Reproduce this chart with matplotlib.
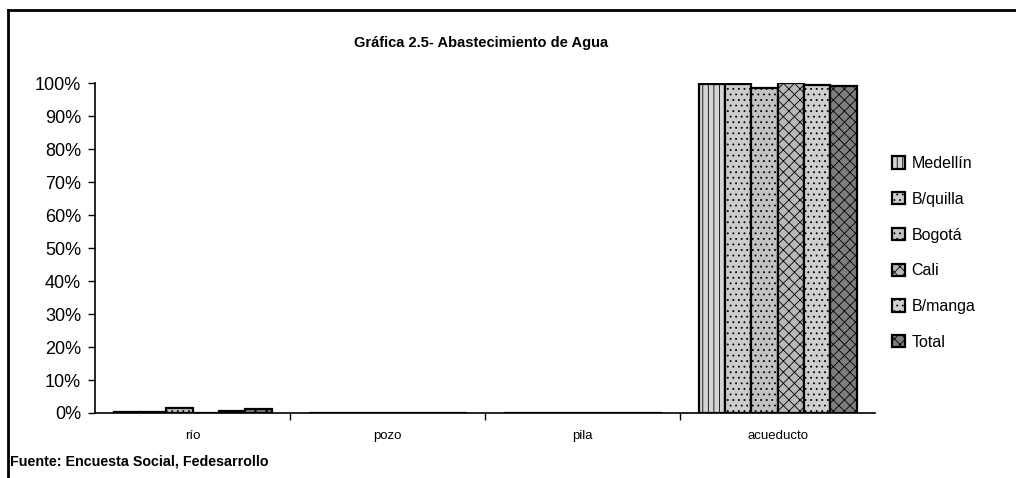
import matplotlib
matplotlib.use("Agg")
import matplotlib.pyplot as plt
import numpy as np
from matplotlib.lines import Line2D
from matplotlib.ticker import PercentFormatter

plt.rcParams['font.family'] = ['Liberation Sans', 'DejaVu Sans']
plt.rcParams['hatch.linewidth'] = 0.6

categories = ["río", "pozo", "pila", "acueducto"]
series = ["Medellín", "B/quilla", "Bogotá", "Cali", "B/manga", "Total"]
medellin = [0.3, 0.0, 0.0, 99.6]
bquilla = [0.4, 0.0, 0.0, 99.7]
bogota = [1.6, 0.0, 0.0, 98.6]
cali = [0.1, 0.0, 0.0, 100.0]
bmanga = [0.6, 0.0, 0.0, 99.5]
total = [1.3, 0.0, 0.0, 99.2]
values = [medellin, bquilla, bogota, cali, bmanga, total]

colors = ["#d4d4d4", "#cccccc", "#c2c2c2", "#b8b8b8", "#cfcfcf", "#7e7e7e"]
hatches = ["|||", "...", "...", "xxx", "...", "xxx"]

fig = plt.figure(figsize=(10.16, 4.78), dpi=100)
ax = fig.add_axes([0.0935, 0.136, 0.768, 0.690])

x = np.arange(len(categories))
n = len(series)
bw = 0.135
for i, (name, vals) in enumerate(zip(series, values)):
    offs = (i - (n - 1) / 2) * bw
    ax.bar(x + offs, vals, bw, color=colors[i], edgecolor="black",
           linewidth=1.6, hatch=hatches[i], label=name)

ax.set_xlim(-0.5, len(categories) - 0.5)
ax.set_ylim(0, 100)
ax.set_yticks(np.arange(0, 101, 10))
ax.yaxis.set_major_formatter(PercentFormatter(decimals=0))
ax.set_xticks(x)
ax.set_xticklabels(categories, fontsize=9.5)
ax.set_xticks(np.arange(0.5, len(categories) - 0.5, 1.0), minor=True)
ax.tick_params(axis='x', which='major', length=0, pad=12)
ax.tick_params(axis='x', which='minor', length=5, direction='out', width=1)
ax.tick_params(axis='y', length=5, direction='out', width=1, labelsize=13, pad=5)
for s in ["top", "right"]:
    ax.spines[s].set_visible(False)
ax.spines["left"].set_linewidth(1.2)
ax.spines["bottom"].set_linewidth(1.2)

fig.text(0.473, 0.910, "Gráfica 2.5- Abastecimiento de Agua", ha="center",
         va="center", fontsize=10.5, fontweight="bold")

leg = fig.legend(loc="upper left", bbox_to_anchor=(0.872, 0.687), frameon=False,
                 fontsize=11.5, handlelength=0.8, handleheight=0.8,
                 labelspacing=1.3, handletextpad=0.4, borderaxespad=0)

fig.text(0.010, 0.035, "Fuente: Encuesta Social, Fedesarrollo", ha="left",
         va="center", fontsize=10.3, fontweight="bold")

fig.add_artist(Line2D([0.008, 1.0], [0.98, 0.98], color="black", lw=2,
                      transform=fig.transFigure))
fig.add_artist(Line2D([0.008, 0.008], [0.0, 0.98], color="black", lw=2,
                      transform=fig.transFigure))

fig.savefig("out.png", dpi=100)
